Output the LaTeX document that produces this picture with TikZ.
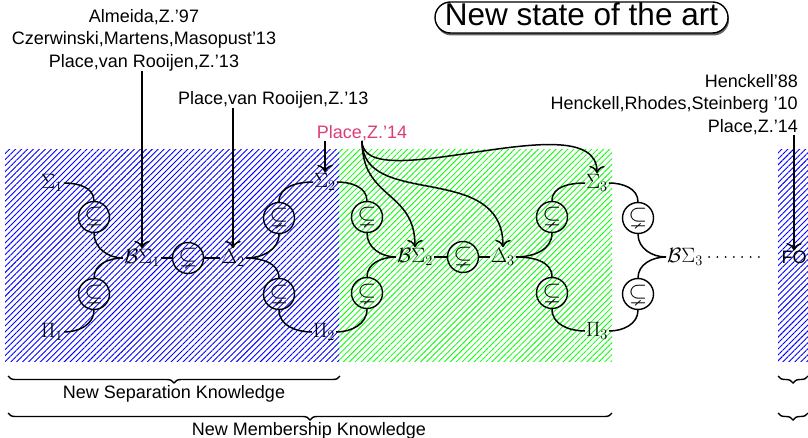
\documentclass[tikz,border=0pt]{standalone}
\usepackage{amssymb}
\usepackage[no-math]{fontspec}
\setmainfont{Liberation Sans}
\usetikzlibrary{arrows.meta,patterns.meta,decorations.pathreplacing,shadows}
\definecolor{citepink}{RGB}{220,60,120}
\begin{document}
\begin{tikzpicture}[x=1pt,y=-1pt,
  cls/.style={font=\fontsize{20}{24}\selectfont, inner sep=1pt},
  incl/.style={draw, circle, line width=1.4pt, minimum size=31pt, inner sep=0pt,
    font=\fontsize{24}{28}\selectfont},
  link/.style={line width=1.5pt},
  ref/.style={font=\fontsize{18}{22.5}\selectfont, inner sep=0pt},
  cite/.style={line width=1.5pt, -{To[scale=1.5]}},
  bluezone/.style={pattern={Lines[angle=45,distance=4.2pt,line width=0.9pt]}, pattern color=blue},
  greenzone/.style={pattern={Lines[angle=45,distance=4.2pt,line width=0.8pt]}, pattern color=green},
  brace/.style={decorate, decoration={brace, mirror, amplitude=7pt}, line width=1.4pt},
]
\useasboundingbox (0,0) rectangle (808,438);

% hatched zones
\path[bluezone] (5,150) rectangle (339,361);
\path[greenzone] (339,150) rectangle (612,361);
\path[bluezone] (778,150) rectangle (808,361);

% classes, level 1
\node[cls] (s1) at (52,183) {$\Sigma_1$};
\node[cls] (p1) at (52,332) {$\Pi_1$};
\node[incl] (c1u) at (94,217) {$\subsetneq$};
\node[incl] (c1d) at (94,294) {$\subsetneq$};
\node[cls] (bs1) at (142,258) {$\mathcal{B}\Sigma_1$};
\node[incl] (cm1) at (188,258) {$\subsetneq$};
\node[cls] (d2) at (233,258) {$\Delta_2$};
\node[incl] (c2u) at (279,218) {$\subsetneq$};
\node[incl] (c2d) at (279,294) {$\subsetneq$};
\node[cls] (s2) at (325,182) {$\Sigma_2$};
\node[cls] (p2) at (324,332) {$\Pi_2$};

% level 2
\node[incl] (g1u) at (367,217) {$\subsetneq$};
\node[incl] (g1d) at (367,293) {$\subsetneq$};
\node[cls] (bs2) at (415,257) {$\mathcal{B}\Sigma_2$};
\node[incl] (cm2) at (463,257) {$\subsetneq$};
\node[cls] (d3) at (503,257) {$\Delta_3$};
\node[incl] (c3u) at (552,217) {$\subsetneq$};
\node[incl] (c3d) at (552,293) {$\subsetneq$};
\node[cls] (s3) at (597,183) {$\Sigma_3$};
\node[cls] (p3) at (597,331) {$\Pi_3$};

% level 3 and FO
\node[incl] (r3u) at (638,218) {$\subsetneq$};
\node[incl] (r3d) at (638,294) {$\subsetneq$};
\node[cls] (bs3) at (685,257) {$\mathcal{B}\Sigma_3$};
\coordinate (dotsend) at (763,257);
\node[ref] (fo) at (794,257) {FO};

% inclusions
\draw[link] (s1.east) to[out=0,in=90] (c1u.north);
\draw[link] (c1u.south) to[out=-90,in=180] (bs1.west);
\draw[link] (p1.east) to[out=0,in=-90] (c1d.south);
\draw[link] (c1d.north) to[out=90,in=180] (bs1.west);
\draw[link] (bs1.east) -- (cm1.west);
\draw[link] (cm1.east) -- (d2.west);
\draw[link] (d2.east) to[out=0,in=-90] (c2u.south);
\draw[link] (c2u.north) to[out=90,in=180] (s2.west);
\draw[link] (d2.east) to[out=0,in=90] (c2d.north);
\draw[link] (c2d.south) to[out=-90,in=180] (p2.west);

\draw[link] (s2.east) to[out=0,in=90] (g1u.north);
\draw[link] (g1u.south) to[out=-90,in=180] (bs2.west);
\draw[link] (p2.east) to[out=0,in=-90] (g1d.south);
\draw[link] (g1d.north) to[out=90,in=180] (bs2.west);
\draw[link] (bs2.east) -- (cm2.west);
\draw[link] (cm2.east) -- (d3.west);
\draw[link] (d3.east) to[out=0,in=-90] (c3u.south);
\draw[link] (c3u.north) to[out=90,in=180] (s3.west);
\draw[link] (d3.east) to[out=0,in=90] (c3d.north);
\draw[link] (c3d.south) to[out=-90,in=180] (p3.west);

\draw[link] (s3.east) to[out=0,in=90] (r3u.north);
\draw[link] (r3u.south) to[out=-90,in=180] (bs3.west);
\draw[link] (p3.east) to[out=0,in=-90] (r3d.south);
\draw[link] (r3d.north) to[out=90,in=180] (bs3.west);
\draw[line width=2pt, line cap=round, dash pattern=on 0pt off 8.3pt,
  shorten <=5pt] (bs3.east) -- (dotsend);

% references
\node[ref, align=center, anchor=north] (lab1) at (144,9)
  {Almeida,Z.'97\\Czerwinski,Martens,Masopust'13\\Place,van Rooijen,Z.'13};
\node[ref, anchor=north west] (lab2) at (178,91) {Place,van Rooijen,Z.'13};
\node[ref, text=citepink] (pz) at (362,133) {Place,Z.'14};
\node[ref, align=right, anchor=north east] (lab3) at (798,74)
  {Henckell'88\\Henckell,Rhodes,Steinberg '10\\Place,Z.'14};

\draw[cite] (lab1.south -| bs1.north) -- (bs1.north);
\draw[cite] (lab2.south -| d2.north) -- (d2.north);
\draw[cite] (pz.south -| s2.north) -- (s2.north);
\draw[cite] (pz.south) .. controls (362,200) and (415,190) .. (bs2.north);
\draw[cite] (pz.south) .. controls (362,210) and (503,160) .. (d3.north);
\draw[cite] (pz.south) .. controls (362,200) and (597,100) .. (s3.north);
\draw[cite] (lab3.south -| fo.north) -- (fo.north);

% title
\node[draw, line width=1.4pt, fill=white, rounded corners=15.5pt,
  minimum width=293pt, minimum height=31pt, inner sep=0pt,
  text height=23pt, text depth=7pt,
  drop shadow={shadow xshift=1pt, shadow yshift=-2.5pt, fill=black!60, opacity=1},
  font=\fontsize{31.5}{36}\selectfont] (title) at (581.5,17.5) {New state of the art};

% knowledge braces
\coordinate (sepL) at (8,376);
\coordinate (sepR) at (340,376);
\coordinate (memL) at (8,413);
\coordinate (memR) at (612,413);
\coordinate (foL1) at (778,376);
\coordinate (foR1) at (808,376);
\coordinate (foL2) at (778,413);
\coordinate (foR2) at (808,413);
\draw[brace] (sepL) -- (sepR);
\draw[brace] (memL) -- (memR);
\draw[brace] (foL1) -- (foR1);
\draw[brace] (foL2) -- (foR2);
\node[ref, anchor=base] (sepText) at (174,398) {New Separation Knowledge};
\node[ref, anchor=base] (memText) at (309,435) {New Membership Knowledge};
\end{tikzpicture}
\end{document}
